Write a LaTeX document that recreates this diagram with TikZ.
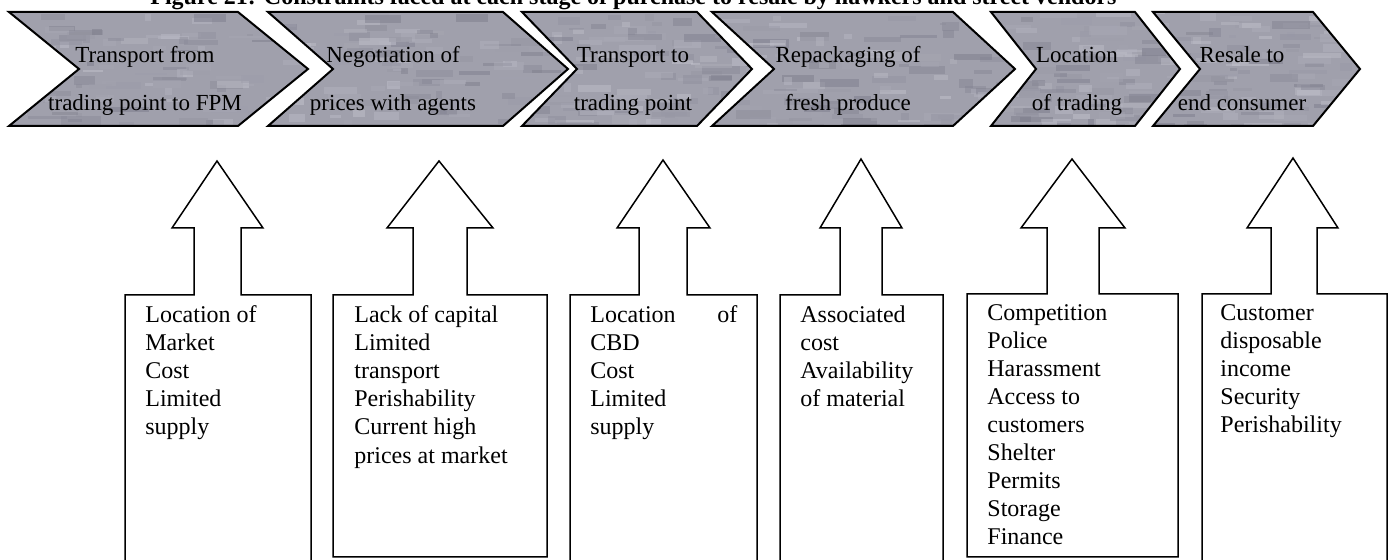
\documentclass[tikz,border=0pt]{standalone}
\usepackage{fontspec}
\setmainfont{Liberation Serif}
\definecolor{chevfill}{RGB}{160,160,172}
\definecolor{chevlight}{RGB}{200,200,210}
\definecolor{chevdark}{RGB}{120,120,135}
\begin{document}
\begin{tikzpicture}[x=0.5pt,y=-0.5pt,
  stage/.style={draw=black, line width=1pt, line join=miter},
  stagetext/.style={align=center, anchor=north, inner sep=0pt,
    font=\fontsize{11.5}{24}\selectfont},
  liftarrow/.style={draw=black, line width=0.75pt, line join=miter},
  factors/.style={align=left, anchor=north west, inner sep=0pt,
    font=\fontsize{12}{14.1}\selectfont}]
\useasboundingbox (0,0) rectangle (1394,560);
\clip (0,0) rectangle (1394,560);
\pgfmathsetseed{11}

% caption line
\node[anchor=base west, inner sep=0pt, font=\bfseries\fontsize{12}{14}\selectfont] (title) at (150,5)
  {Figure 21: Constraints faced at each stage of purchase to resale by hawkers and street vendors};

% stages: left edge / point depth / tip, filled with a mottled grey texture
\foreach \l/\d/\t in {9/70/308, 268/65/568, 522/55/752, 712/62/1015, 991/45/1180, 1153/47/1360}{
  \begin{scope}
    \clip (\l,12) -- ({\t-\d},12) -- (\t,69) -- ({\t-\d},126) -- (\l,126) -- ({\l+\d},69) -- cycle;
    \fill[chevfill] (\l,12) rectangle (\t,126);
    \foreach \k in {1,...,110}{
      \pgfmathsetmacro\xx{\l+rnd*(\t-\l)}
      \pgfmathsetmacro\yy{12+rnd*114}
      \pgfmathsetmacro\ww{6+rnd*34}
      \pgfmathsetmacro\hh{2+rnd*7}
      \pgfmathtruncatemacro\mix{rnd*100}
      \fill[chevlight!\mix!chevdark, opacity=0.45] (\xx,\yy) rectangle ++(\ww,\hh);
    }
  \end{scope}
  \draw[stage] (\l,12) -- ({\t-\d},12) -- (\t,69) -- ({\t-\d},126) -- (\l,126) -- ({\l+\d},69) -- cycle;
}

\node[stagetext] (s1) at (145,29) {\strut Transport from\\trading point to FPM};
\node[stagetext] (s2) at (393,29) {\strut Negotiation of\\prices with agents};
\node[stagetext] (s3) at (633,29) {\strut Transport to\\trading point};
\node[stagetext] (s4) at (848,29) {\strut Repackaging of\\fresh produce};
\node[stagetext] (s5) at (1077,29) {\strut Location\\of trading};
\node[stagetext] (s6) at (1242,29) {\strut Resale to\\end consumer};

% constraint boxes with arrows: tip x/tip y/head left/head right/shaft left/shaft right/box left/box right/box top/box bottom
\foreach \tx/\ty/\hl/\hr/\sl/\sr/\bl/\br/\bt/\bb in {
   217/161/172/263/194/241/125/311/295/575,
   439/161/387/493/413/467/333/547/295/557,
   663/160/617/710/639/687/570/757/295/575,
   861/159/820/902/840/882/780/943/295/575,
   1072/159/1021/1125/1047/1099/967/1178/294/557,
   1293/158/1247/1338/1271/1317/1202/1387/294/575}{
  \draw[liftarrow] (\sl,\bt) -- (\bl,\bt) -- (\bl,\bb) -- (\br,\bb) -- (\br,\bt) -- (\sr,\bt)
    -- (\sr,228) -- (\hr,228) -- (\tx,\ty) -- (\hl,228) -- (\sl,228) -- cycle;
}

\node[factors] (f1) at (145,302) {\strut Location of\\Market\\Cost\\Limited\\supply};
\node[factors] (f2) at (354,302) {\strut Lack of capital\\Limited\\transport\\Perishability\\Current high\\prices at market};
\node[factors] (f3) at (590,302) {\strut\makebox[73.5pt][s]{Location\hfill of}\\CBD\\Cost\\Limited\\supply};
\node[factors] (f4) at (800,302) {\strut Associated\\cost\\Availability\\of material};
\node[factors, font=\fontsize{12}{14}\selectfont] (f5) at (987,301) {\strut Competition\\Police\\Harassment\\Access to\\customers\\Shelter\\Permits\\Storage\\Finance};
\node[factors] (f6) at (1220,300) {\strut Customer\\disposable\\income\\Security\\Perishability};
\end{tikzpicture}
\end{document}
